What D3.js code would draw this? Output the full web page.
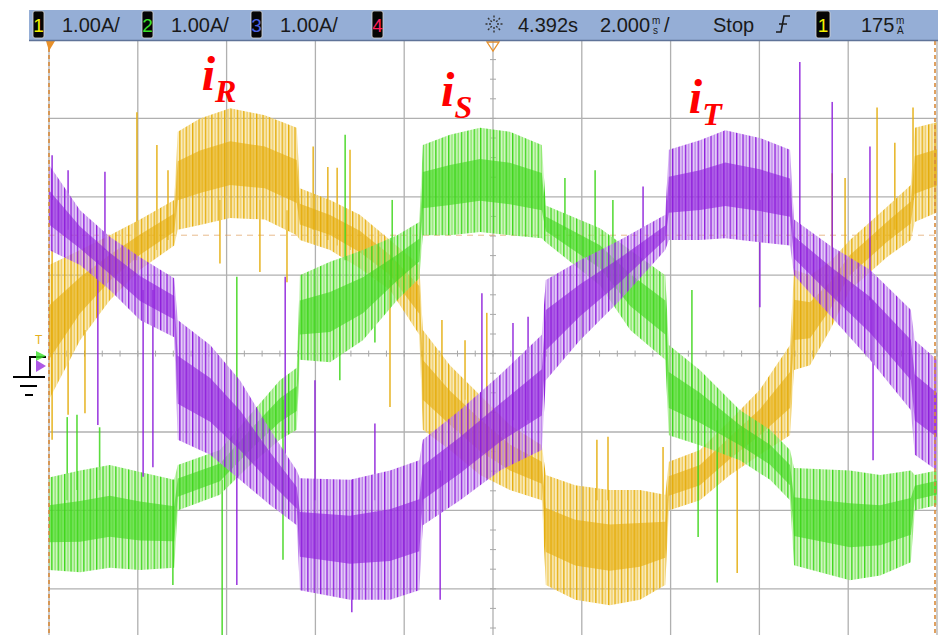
<!DOCTYPE html>
<html>
<head>
<meta charset="utf-8">
<script src="https://cdn.jsdelivr.net/npm/d3@7"></script>
<style>
  body { margin: 0; background: #fff; }
  svg { display: block; }
</style>
</head>
<body>
<div id="chart"></div>
<script>
// Phase currents: [time ms, top of noise band A, bottom of noise band A]
const iR = [
  [-10.00, 1.13, -0.59], [-9.30, 1.32, 0.17], [-8.63, 1.51, 0.68], [-7.95, 1.71, 1.07],
  [-7.18, 1.96, 1.38], [-7.10, 2.83, 1.58], [-6.60, 3.00, 1.64], [-5.92, 3.13, 1.73],
  [-5.14, 3.04, 1.71], [-4.42, 2.88, 1.51], [-4.35, 2.11, 1.45], [-3.67, 1.96, 1.32],
  [-3.00, 1.77, 1.09], [-2.32, 1.45, 0.81], [-1.66, 1.13, 0.24], [-1.58, 0.30, -0.97],
  [-0.97, -0.15, -1.23], [-0.29, -0.53, -1.55], [0.38, -0.91, -1.74], [1.10, -1.17, -1.87],
  [1.19, -1.55, -2.95], [1.85, -1.68, -3.14], [2.63, -1.74, -3.21], [3.31, -1.74, -3.14],
  [3.88, -1.80, -2.95], [3.96, -1.38, -2.00], [4.66, -1.23, -1.87], [5.34, -0.85, -1.55],
  [6.01, -0.46, -1.29], [6.69, 0.11, -1.04], [6.78, 1.07, -0.21], [7.14, 1.00, -0.15],
  [7.59, 1.17, 0.30], [8.04, 1.45, 0.81], [8.87, 1.87, 1.23], [9.41, 2.15, 1.45],
  [9.50, 2.88, 1.68], [10.00, 2.95, 1.80]
];
const iS = [
  [-10.00, -1.58, -2.76], [-9.30, -1.49, -2.79], [-8.63, -1.42, -2.73], [-7.95, -1.51, -2.76],
  [-7.18, -1.61, -2.73], [-7.10, -1.42, -2.00], [-6.15, -1.23, -1.80], [-5.47, -0.78, -1.42],
  [-4.80, -0.34, -1.10], [-4.42, -0.18, -0.97], [-4.35, 1.00, -0.08], [-3.67, 1.17, -0.11],
  [-2.93, 1.32, 0.17], [-2.16, 1.51, 0.68], [-1.66, 1.68, 0.96], [-1.58, 2.66, 1.51],
  [-0.97, 2.79, 1.51], [-0.29, 2.88, 1.55], [0.38, 2.83, 1.51], [1.10, 2.66, 1.47],
  [1.19, 1.89, 1.42], [2.41, 1.60, 0.87], [3.09, 1.32, 0.30], [3.88, 1.00, -0.08],
  [3.96, 0.11, -1.04], [4.66, -0.21, -1.17], [5.56, -0.72, -1.36], [6.24, -0.97, -1.61],
  [6.69, -1.23, -1.87], [6.78, -1.46, -2.70], [8.04, -1.49, -2.89], [8.72, -1.55, -2.83],
  [9.41, -1.49, -2.66], [9.50, -1.55, -2.00], [10.00, -1.49, -1.93]
];
const iT = [
  [-10.00, 2.41, 1.32], [-9.30, 1.83, 1.13], [-8.63, 1.49, 0.81], [-7.95, 1.23, 0.43],
  [-7.18, 0.96, 0.21], [-7.10, 0.43, -1.10], [-6.37, 0.11, -1.29], [-5.70, -0.34, -1.61],
  [-5.02, -0.97, -1.93], [-4.42, -1.49, -2.19], [-4.35, -1.59, -3.02], [-3.22, -1.61, -3.14],
  [-2.32, -1.49, -3.14], [-1.66, -1.36, -3.02], [-1.58, -1.10, -2.19], [-0.74, -0.72, -1.87],
  [0.16, -0.27, -1.49], [1.10, 0.24, -1.23], [1.19, 0.94, -0.34], [1.96, 1.19, 0.17],
  [2.86, 1.45, 0.68], [3.88, 1.77, 1.32], [3.96, 2.60, 1.45], [4.66, 2.72, 1.45],
  [5.23, 2.85, 1.47], [6.01, 2.75, 1.42], [6.69, 2.60, 1.38], [6.78, 1.71, 1.00],
  [7.59, 1.38, 0.49], [8.49, 1.07, -0.08], [9.41, 0.56, -0.72], [9.50, 0.17, -1.29],
  [10.00, -0.08, -1.49]
];

// switching spikes that stick out of the bands: [time ms, from A, to A]
const spikesR = [
  [-9.93, 1.32, -1.10], [-9.57, 0.81, -0.78], [-9.19, 0.30, -0.76], [-8.02, 3.08, 1.19],
  [-7.57, 2.66, 1.32], [-7.32, 2.34, 1.45], [-6.15, 1.96, 1.15], [-5.25, 1.96, 1.04],
  [-4.64, 1.83, 0.91], [-4.05, 2.64, 1.58], [-3.72, 2.38, 1.45], [-3.51, 2.37, 1.38],
  [-3.22, 2.60, 1.32], [-2.32, 0.94, -0.68], [-1.15, 0.43, -0.34], [-0.63, 0.17, -0.59],
  [-0.14, 0.52, -1.10], [2.34, -1.10, -1.87], [2.59, -1.06, -1.87], [3.83, -1.19, -2.12],
  [5.50, -1.23, -2.80], [7.64, 2.30, 0.81], [7.93, 2.24, 1.19], [8.65, 3.14, 1.45],
  [9.05, 2.69, 1.58], [9.46, 3.14, 1.96]
];
const spikesS = [
  [-9.59, -0.81, -1.87], [-9.37, -0.78, -1.74], [-8.86, -0.94, -1.74], [-7.21, -1.61, -2.95],
  [-6.10, -1.61, -3.59], [-5.77, 0.98, -1.49], [-4.73, -0.59, -2.63], [-3.45, 0.68, -0.34],
  [-3.33, 2.79, 1.19], [-2.66, 0.94, 0.14], [-2.27, 1.96, 1.19], [1.62, 2.24, 1.58],
  [2.30, 2.34, 1.45], [2.70, 1.96, 1.07], [4.48, 0.81, -0.85], [4.62, -0.59, -2.34],
  [5.05, -0.85, -2.92]
];
const spikesT = [
  [-9.93, 2.53, 1.96], [-9.57, 2.34, 1.58], [-8.90, 1.19, -0.91], [-8.74, 2.32, 1.32],
  [-7.88, 0.81, -1.57], [-7.66, 0.81, -1.45], [-5.77, -1.10, -2.95], [-4.68, 0.98, -1.49],
  [-4.01, -0.34, -1.87], [-3.18, -1.61, -3.30], [-2.66, -0.89, -1.87], [-1.19, -1.49, -3.14],
  [-0.25, 0.77, -0.85], [0.45, 0.39, -0.85], [0.79, 0.47, -0.85], [3.38, 2.13, 1.19],
  [6.01, 1.96, 0.59], [6.91, 3.72, 1.45], [7.64, 3.21, 0.94], [8.49, 2.64, 0.68],
  [8.56, 0.68, -1.36]
];

// scope settings shown in the status bar
const channelScales = ['1.00A/', '1.00A/', '1.00A/'];
const timeOffset = '4.392s';
const timeBase = '2.000';
const runState = 'Stop';
const trigLevel = '175';
const trigLine = 1.51; // A, dashed level line

const W = 938, H = 635;
const svg = d3.select('#chart').append('svg').attr('width', W).attr('height', H);

const x = d3.scaleLinear().domain([-10, 10]).range([49, 937]);
const y = d3.scaleLinear().domain([-4, 4]).range([667.2, 40]);

const defs = svg.append('defs');
defs.append('clipPath').attr('id', 'plot')
  .append('rect').attr('x', 49).attr('y', 41).attr('width', 889).attr('height', H - 41);

const traces = [
  { id: 'r', data: iR, spikes: spikesR, main: '#e5ad0c', light: '#f0cc5c' },
  { id: 's', data: iS, spikes: spikesS, main: '#3fd61c', light: '#8ce86c' },
  { id: 't', data: iT, spikes: spikesT, main: '#8e1fdb', light: '#bd82ec' }
];

// vertical hatch to mimic the dense PWM ripple
traces.forEach(tr => {
  const p = defs.append('pattern').attr('id', 'hatch-' + tr.id)
    .attr('patternUnits', 'userSpaceOnUse').attr('width', 6.4).attr('height', 10);
  p.append('rect').attr('width', 6.4).attr('height', 10).attr('fill', tr.light).attr('opacity', 0.4);
  p.append('rect').attr('width', 1.4).attr('height', 10).attr('fill', tr.main);
  p.append('rect').attr('x', 3.2).attr('width', 1.4).attr('height', 10).attr('fill', tr.light);
});

// grid
const grid = svg.append('g');
grid.selectAll('line.v').data(x.ticks(10)).join('line')
  .attr('x1', d => x(d)).attr('x2', d => x(d)).attr('y1', 41).attr('y2', H)
  .attr('stroke', '#b0b0b0').attr('stroke-width', 1.3);
grid.selectAll('line.h').data(y.ticks(8).filter(d => y(d) > 42)).join('line')
  .attr('x1', 49).attr('x2', 937).attr('y1', d => y(d)).attr('y2', d => y(d))
  .attr('stroke', '#b0b0b0').attr('stroke-width', 1.3);
// minor ticks on the centre cross
grid.selectAll('line.mx').data(d3.range(-10, 10.01, 0.4)).join('line')
  .attr('x1', d => x(d)).attr('x2', d => x(d)).attr('y1', y(0) - 3).attr('y2', y(0) + 3)
  .attr('stroke', '#a8a8a8').attr('stroke-width', 1);
grid.selectAll('line.my').data(d3.range(-4, 4.01, 0.25)).join('line')
  .attr('x1', x(0) - 3).attr('x2', x(0) + 3).attr('y1', d => y(d)).attr('y2', d => y(d))
  .attr('stroke', '#a8a8a8').attr('stroke-width', 1);

// trigger level line
svg.append('line').attr('x1', 49).attr('x2', 937).attr('y1', y(trigLine)).attr('y2', y(trigLine))
  .attr('stroke', '#e0a060').attr('stroke-width', 1).attr('stroke-dasharray', '6,5').attr('opacity', 0.7);

const plot = svg.append('g').attr('clip-path', 'url(#plot)');

const outer = d3.area().x(d => x(d[0])).y0(d => y(d[2])).y1(d => y(d[1]));
const core = d3.area().x(d => x(d[0]))
  .y0(d => y(d[2] + (d[1] - d[2]) * 0.3))
  .y1(d => y(d[1] - (d[1] - d[2]) * 0.3));

traces.forEach(tr => {
  const g = plot.append('g');
  g.selectAll('line').data(tr.spikes).join('line')
    .attr('x1', d => x(d[0])).attr('x2', d => x(d[0]))
    .attr('y1', d => y(d[1])).attr('y2', d => y(d[2]))
    .attr('stroke', tr.main).attr('stroke-width', 1.6).attr('opacity', 0.85);
  g.append('path').datum(tr.data).attr('d', outer).attr('fill', `url(#hatch-${tr.id})`);
  g.append('path').datum(tr.data).attr('d', core).attr('fill', tr.main).attr('opacity', 0.62);
});

// cursors at both screen edges
[x(-10), x(10) - 2].forEach(cx => {
  svg.append('line').attr('x1', cx).attr('x2', cx).attr('y1', 41).attr('y2', H)
    .attr('stroke', '#d98a3a').attr('stroke-width', 1.6).attr('stroke-dasharray', '4,3');
});
svg.append('path').attr('d', `M${x(-10) - 3},41 L${x(-10) + 6},41 L${x(-10)},51 Z`).attr('fill', '#e8902a');
svg.append('path').attr('d', `M${x(0) - 6},42 L${x(0) + 6},42 L${x(0)},51 Z`)
  .attr('fill', 'none').attr('stroke', '#e8902a').attr('stroke-width', 1.3);

// phase labels
const labels = [
  { name: 'R', t: -6.56, a: 3.36 },
  { name: 'S', t: -1.17, a: 3.16 },
  { name: 'T', t: 4.41, a: 3.07 }
];
const lab = svg.append('g').attr('fill', '#ff0000')
  .attr('font-family', '"Liberation Serif", "Times New Roman", serif')
  .attr('font-weight', 'bold').attr('font-style', 'italic');
labels.forEach(l => {
  const t = lab.append('text').attr('x', x(l.t)).attr('y', y(l.a));
  t.append('tspan').attr('font-size', 48).text('i');
  t.append('tspan').attr('font-size', 32).attr('dy', 12).text(l.name);
});

// status bar
const bar = svg.append('g').attr('font-family', '"Liberation Sans", Arial, sans-serif')
  .attr('font-size', 20).attr('fill', '#1a1a1a');
bar.append('rect').attr('x', 29).attr('y', 10).attr('width', W - 29).attr('height', 31).attr('fill', '#95aed6');
bar.append('line').attr('x1', 29).attr('x2', W).attr('y1', 40.5).attr('y2', 40.5).attr('stroke', '#5f7398').attr('stroke-width', 1.5);

function badge(bx, label, color, bw) {
  bar.append('rect').attr('x', bx).attr('y', 11).attr('width', bw).attr('height', 27).attr('rx', 2)
    .attr('fill', '#050505').attr('stroke', '#d8d8d8').attr('stroke-width', 0.8);
  bar.append('text').attr('x', bx + bw / 2).attr('y', 32).attr('text-anchor', 'middle')
    .attr('font-size', 19).attr('fill', color).text(label);
}
const chanColors = ['#f4f000', '#3ce02a', '#4c62e0', '#ff1f5a'];
const badgeX = [33, 142, 251, 372];
badgeX.forEach((bx, i) => badge(bx, String(i + 1), chanColors[i], 11));
channelScales.forEach((s, i) => bar.append('text').attr('x', badgeX[i] + 29).attr('y', 32).text(s));

// acquisition icon
const sun = bar.append('g').attr('transform', 'translate(494,24)').attr('stroke', '#333').attr('stroke-width', 1.4)
  .attr('stroke-dasharray', '2,1.5');
d3.range(0, 360, 45).forEach(a => {
  const r = a * Math.PI / 180;
  sun.append('line').attr('x1', 3 * Math.cos(r)).attr('y1', 3 * Math.sin(r))
    .attr('x2', 10 * Math.cos(r)).attr('y2', 10 * Math.sin(r));
});

bar.append('text').attr('x', 518).attr('y', 32).text(timeOffset);
bar.append('text').attr('x', 600).attr('y', 32).text(timeBase);
bar.append('text').attr('x', 652).attr('y', 24).attr('font-size', 10).text('m');
bar.append('text').attr('x', 653).attr('y', 34).attr('font-size', 10).text('s');
bar.append('text').attr('x', 664).attr('y', 32).text('/');
bar.append('text').attr('x', 713).attr('y', 32).text(runState);
// rising edge trigger symbol
bar.append('path').attr('d', 'M776,32 H781 L784,16 H790 M779,24 H787')
  .attr('fill', 'none').attr('stroke', '#1a1a1a').attr('stroke-width', 1.6);
badge(816, '1', chanColors[0], 14);
bar.append('text').attr('x', 861).attr('y', 32).text(trigLevel);
bar.append('text').attr('x', 896).attr('y', 24).attr('font-size', 10).text('m');
bar.append('text').attr('x', 897).attr('y', 34).attr('font-size', 10).text('A');

// ground / channel markers on the left
const left = svg.append('g');
left.append('path').attr('d', 'M13,377 H45 M20,386 H37 M25,395 H33 M30,377 V357 H46')
  .attr('fill', 'none').attr('stroke', '#000').attr('stroke-width', 2);
left.append('text').attr('x', 35).attr('y', 344).attr('font-size', 12)
  .attr('font-family', '"Liberation Sans", Arial, sans-serif').attr('fill', '#e6b020').text('T');
left.append('path').attr('d', 'M36,351 L46,356 L36,361 Z').attr('fill', '#3ce02a').attr('opacity', 0.8);
left.append('path').attr('d', 'M36,360 L46,366 L36,372 Z').attr('fill', '#9a30e0').attr('opacity', 0.8);
</script>
</body>
</html>
